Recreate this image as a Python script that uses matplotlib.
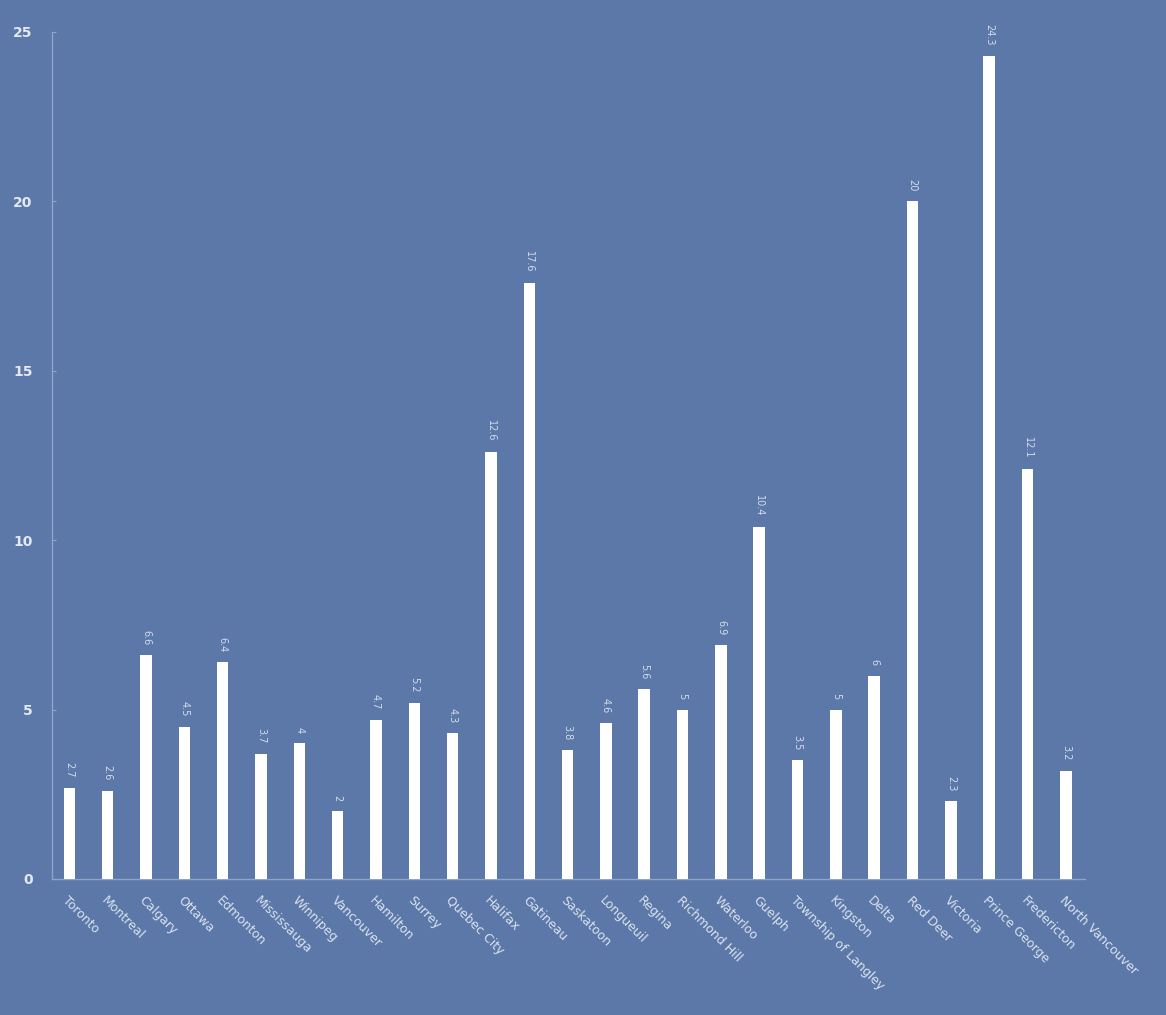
import matplotlib
matplotlib.use("Agg")
import matplotlib.pyplot as plt

cities = ["Toronto", "Montreal", "Calgary", "Ottawa", "Edmonton", "Mississauga",
          "Winnipeg", "Vancouver", "Hamilton", "Surrey", "Quebec City", "Halifax",
          "Gatineau", "Saskatoon", "Longueuil", "Regina", "Richmond Hill", "Waterloo",
          "Guelph", "Township of Langley", "Kingston", "Delta", "Red Deer", "Victoria",
          "Prince George", "Fredericton", "North Vancouver"]
values = [2.7, 2.6, 6.6, 4.5, 6.4, 3.7, 4, 2, 4.7, 5.2, 4.3, 12.6, 17.6, 3.8, 4.6,
          5.6, 5, 6.9, 10.4, 3.5, 5, 6, 20, 2.3, 24.3, 12.1, 3.2]
yticks = [0, 5, 10, 15, 20, 25]

bg = "#5b78a8"
fig = plt.figure(figsize=(11.66, 10.15), dpi=100, facecolor=bg)
ax = fig.add_axes([0.0446, 0.134, 0.886, 0.8345], facecolor=bg)

x = list(range(len(cities)))
ax.bar(x, values, width=0.3, color="white", zorder=3)
for xi, v in zip(x, values):
    ax.text(xi, v + 0.3, f"{v:g}", rotation=-90, ha="center", va="bottom",
            fontsize=7, color="#d3dbea")

ax.set_xlim(-0.45, 26.5)
ax.set_ylim(0, 25)
ax.set_yticks(yticks)
ax.set_xticks(x)
ax.set_xticklabels(cities, rotation=-45, ha="left", va="top",
                   rotation_mode="anchor", fontsize=9, color="#dbe2ee")
for s in ["top", "right"]:
    ax.spines[s].set_visible(False)
for s in ["left", "bottom"]:
    ax.spines[s].set_color("#8ea4c9")
    ax.spines[s].set_linewidth(1)
ax.tick_params(axis="x", length=0, pad=11)
ax.tick_params(axis="y", direction="in", length=3, color="#8ea4c9",
               labelsize=10, labelcolor="#e3e8f1", pad=14)
for lbl in ax.get_yticklabels():
    lbl.set_fontweight("bold")

fig.savefig("out.png", dpi=100, facecolor=bg)
